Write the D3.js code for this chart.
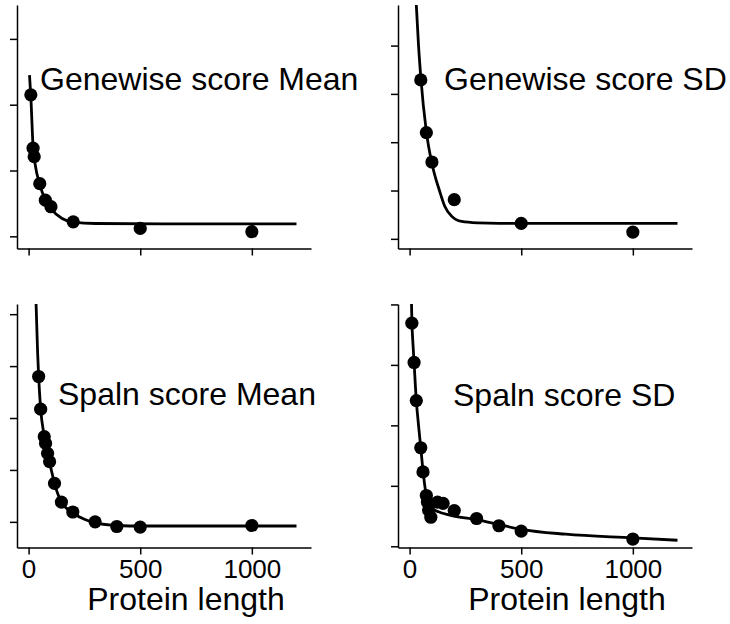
<!DOCTYPE html>
<html>
<head>
<meta charset="utf-8">
<script src="https://cdnjs.cloudflare.com/ajax/libs/d3/7.8.5/d3.min.js"></script>
<style>
body { margin: 0; background: #fff; }
svg text { font-family: "Liberation Sans", Arial, Helvetica, sans-serif; fill: #000; }
</style>
</head>
<body>
<div id="chart"></div>
<script>
// DATA ------------------------------------------------------------
var panelTitles = ["Genewise score Mean", "Genewise score SD", "Spaln score Mean", "Spaln score SD"];
var xTickValues = [0, 500, 1000];
var xLabel = "Protein length";

// Genewise mean
var genewiseMeanLen = [10, 20, 25, 50, 75, 100, 200, 500, 1000];
var genewiseMean    = [2.15, 1.34, 1.21, 0.80, 0.55, 0.45, 0.22, 0.12, 0.07];
var genewiseMeanFitLen = [4, 10, 20, 30, 50, 75, 100, 150, 200, 300, 600, 1200];
var genewiseMeanFit    = [2.45, 2.12, 1.36, 1.08, 0.79, 0.55, 0.42, 0.27, 0.215, 0.195, 0.19, 0.19];

// Genewise SD
var genewiseSdLen = [50, 75, 100, 200, 500, 1000];
var genewiseSd    = [3.29, 2.20, 1.59, 0.81, 0.32, 0.14];
var genewiseSdFitLen = [25, 30, 40, 50, 75, 100, 135, 158, 188, 233, 307, 400, 1200];
var genewiseSdFit    = [5.3, 4.84, 4.0, 3.35, 2.22, 1.56, 0.98, 0.67, 0.47, 0.36, 0.33, 0.32, 0.32];

// Spaln mean
var spalnMeanLen = [45, 54, 70, 76, 85, 94, 116, 147, 198, 298, 395, 500, 1000];
var spalnMean    = [2.80, 2.17, 1.64, 1.51, 1.32, 1.16, 0.74, 0.38, 0.19, 0.0, -0.09, -0.10, -0.07];
var spalnMeanFitLen = [32, 40, 45, 54, 70, 85, 100, 116, 147, 200, 250, 300, 400, 500, 1200];
var spalnMeanFit    = [4.4, 3.3, 2.80, 2.17, 1.66, 1.30, 1.03, 0.74, 0.38, 0.17, 0.05, -0.02, -0.07, -0.08, -0.08];

// Spaln SD
var spalnSdLen = [10, 20, 30, 50, 60, 75, 80, 85, 95, 125, 150, 200, 300, 400, 500, 1000];
var spalnSd    = [3.69, 3.04, 2.41, 1.63, 1.23, 0.84, 0.73, 0.60, 0.48, 0.73, 0.71, 0.59, 0.46, 0.34, 0.25, 0.12];
var spalnSdFitLen = [8, 10, 15, 20, 30, 40, 50, 60, 70, 80, 100, 130, 200, 300, 400, 500, 700, 1000, 1200];
var spalnSdFit    = [4.1, 3.75, 3.35, 3.04, 2.41, 2.0, 1.63, 1.25, 0.95, 0.78, 0.63, 0.57, 0.50, 0.44, 0.36, 0.28, 0.20, 0.14, 0.10];

// LAYOUT ------------------------------------------------------------
var width = 730, height = 624;
var panelW = 294, panelH = 243.5;
var xDomain = [-52, 1265];

var panels = [
	{left: 17, top: 5, yDomain: [-0.185, 3.515], yTicks: [0, 1, 2, 3], titleX: 40, titleY: 90, bottom: false,
	 len: genewiseMeanLen, val: genewiseMean, fitLen: genewiseMeanFitLen, fit: genewiseMeanFit},
	{left: 398, top: 5, yDomain: [-0.2, 4.84], yTicks: [0, 1, 2, 3, 4], titleX: 444, titleY: 90, bottom: false,
	 len: genewiseSdLen, val: genewiseSd, fitLen: genewiseSdFitLen, fit: genewiseSdFit},
	{left: 17, top: 304, yDomain: [-0.494, 4.196], yTicks: [0, 1, 2, 3, 4], titleX: 58, titleY: 405, bottom: true,
	 len: spalnMeanLen, val: spalnMean, fitLen: spalnMeanFitLen, fit: spalnMeanFit},
	{left: 398, top: 304, yDomain: [-0.02, 4.007], yTicks: [0, 1, 2, 3, 4], titleX: 453, titleY: 406, bottom: true,
	 len: spalnSdLen, val: spalnSd, fitLen: spalnSdFitLen, fit: spalnSdFit}
];

var svg = d3.select("#chart")
	.append("svg")
	.attr("width", width)
	.attr("height", height);

// DRAW ------------------------------------------------------------
panels.forEach(function(p, i) {
	var x = d3.scaleLinear().domain(xDomain).range([p.left, p.left + panelW]);
	var y = d3.scaleLinear().domain(p.yDomain).range([p.top + panelH, p.top]);
	var g = svg.append("g");

	g.append("clipPath")
		.attr("id", "clip" + i)
		.append("rect")
		.attr("x", p.left)
		.attr("y", p.top)
		.attr("width", panelW + 10)
		.attr("height", panelH);

	// axes
	var xAxis = d3.axisBottom(x)
		.tickValues(xTickValues)
		.tickSize(7)
		.tickSizeOuter(0)
		.tickPadding(5)
		.tickFormat(d3.format("d"));
	if (!p.bottom) xAxis.tickFormat("");

	var yAxis = d3.axisLeft(y)
		.tickValues(p.yTicks)
		.tickSize(7)
		.tickSizeOuter(0)
		.tickFormat("");

	var gx = g.append("g")
		.attr("transform", "translate(0," + (p.top + panelH) + ")")
		.call(xAxis);
	var gy = g.append("g")
		.attr("transform", "translate(" + p.left + ",0)")
		.call(yAxis);

	[gx, gy].forEach(function(a) {
		a.selectAll("path, line")
			.attr("stroke", "#000")
			.attr("stroke-width", 1.5);
		a.selectAll("text")
			.attr("font-size", "26px")
			.attr("fill", "#000");
	});

	// fitted curve
	var fitData = p.fitLen.map(function(d, k) { return [d, p.fit[k]]; });
	var line = d3.line()
		.x(function(d) { return x(d[0]); })
		.y(function(d) { return y(d[1]); })
		.curve(d3.curveMonotoneX);

	g.append("path")
		.datum(fitData)
		.attr("clip-path", "url(#clip" + i + ")")
		.attr("d", line)
		.attr("fill", "none")
		.attr("stroke", "#000")
		.attr("stroke-width", 2.8);

	// points
	g.selectAll("circle")
		.data(p.len)
		.enter()
		.append("circle")
		.attr("cx", function(d) { return x(d); })
		.attr("cy", function(d, k) { return y(p.val[k]); })
		.attr("r", 6.6)
		.attr("fill", "#000");

	// title
	g.append("text")
		.attr("x", p.titleX)
		.attr("y", p.titleY)
		.attr("font-size", "32px")
		.text(panelTitles[i]);

	if (p.bottom) {
		g.append("text")
			.attr("x", p.left + 169)
			.attr("y", 610)
			.attr("text-anchor", "middle")
			.attr("font-size", "32px")
			.text(xLabel);
	}
});
</script>
</body>
</html>
